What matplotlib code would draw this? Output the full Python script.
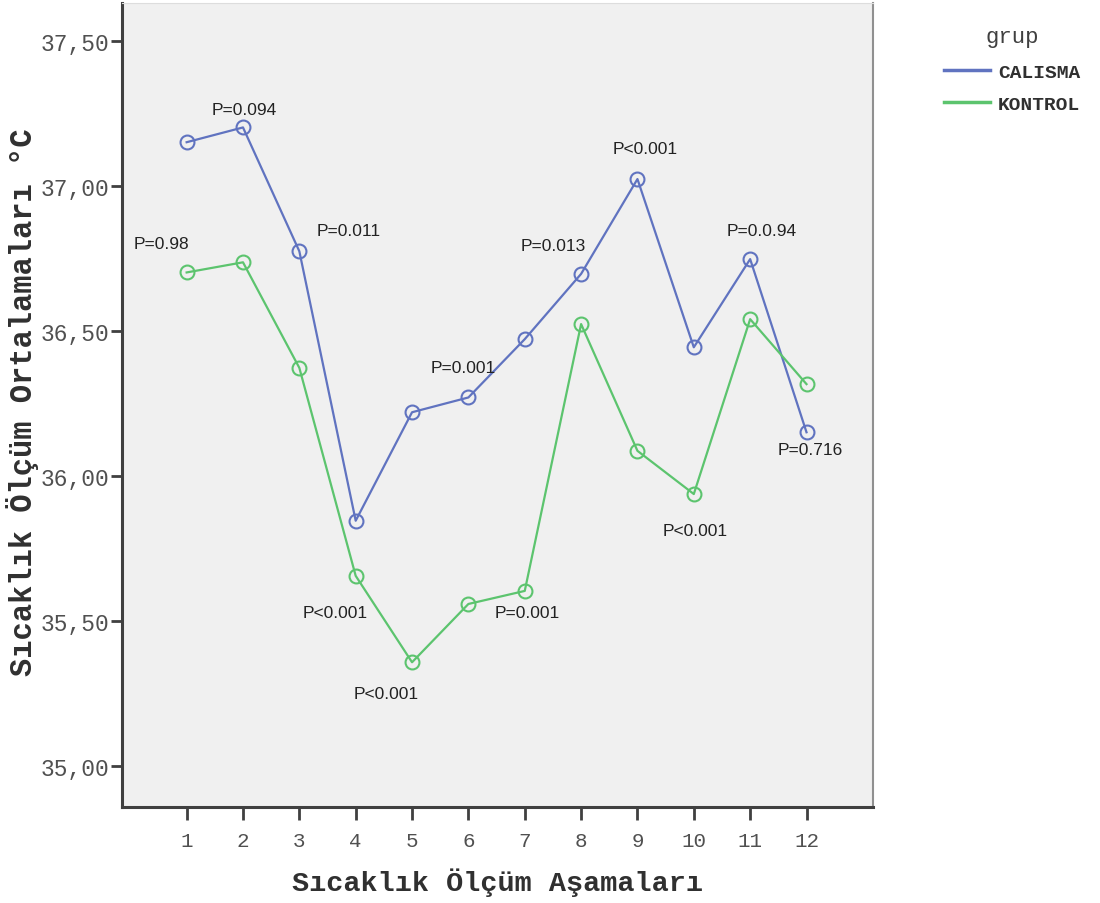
import matplotlib
matplotlib.use('Agg')
import matplotlib.pyplot as plt
from matplotlib.lines import Line2D

# measurement stages and group means (deg C)
stages = list(range(1, 13))
calisma = [37.150, 37.201, 36.774, 35.845, 36.219, 36.270,
           36.471, 36.696, 37.023, 36.443, 36.747, 36.150]
kontrol = [36.701, 36.736, 36.372, 35.655, 35.357, 35.558,
           35.603, 36.523, 36.086, 35.937, 36.540, 36.316]

yticks = [35.0, 35.5, 36.0, 36.5, 37.0, 37.5]
ytick_labels = ['35,00', '35,50', '36,00', '36,50', '37,00', '37,50']

# p-value notes and where they sit
p_labels = ['P=0.98', 'P=0.094', 'P=0.011', 'P<0.001', 'P<0.001', 'P=0.001',
            'P=0.001', 'P=0.013', 'P<0.001', 'P<0.001', 'P=0.0.94', 'P=0.716']
p_x = [0.545, 2.02, 3.88, 3.63, 4.54, 5.90, 7.05, 7.50, 9.13, 10.03, 11.2, 12.07]
p_y = [36.80, 37.264, 36.845, 35.53, 35.25, 36.374, 35.53, 36.793, 37.127, 35.81, 36.845, 36.092]

mono = 'Liberation Mono'
blue = '#6073c0'
green = '#5cc46e'

fig = plt.figure(figsize=(11, 9.04), dpi=100)
ax = fig.add_axes([122/1100, 96/904, 751/1100, 804/904])
ax.set_facecolor('#f0f0f0')

ax.plot(stages, calisma, color=blue, lw=1.6, marker='o', ms=10, mfc='none',
        mec=blue, mew=1.5)
ax.plot(stages, kontrol, color=green, lw=1.6, marker='o', ms=10, mfc='none',
        mec=green, mew=1.5)

for lab, x, y in zip(p_labels, p_x, p_y):
    ax.text(x, y, lab, ha='center', va='center', fontsize=12.5,
            family='Liberation Sans', color='#222222')

ax.set_xlim(-0.147, 13.18)
ax.set_ylim(34.858, 37.630)
ax.set_xticks(stages)
ax.set_xticklabels([str(s) for s in stages], family=mono, fontsize=15, color='#505050')
ax.set_yticks(yticks)
ax.set_yticklabels(ytick_labels, family=mono, fontsize=16.5, color='#505050')

ax.tick_params(axis='y', length=8, width=2, color='#404040', pad=1)
ax.tick_params(axis='x', length=9, width=2, color='#404040', pad=8)

for side in ['left', 'bottom']:
    ax.spines[side].set_color('#404040')
    ax.spines[side].set_linewidth(2.2)
ax.spines['right'].set_color('#909090')
ax.spines['right'].set_linewidth(1.5)
ax.spines['top'].set_color('#dddddd')
ax.spines['top'].set_linewidth(0.8)

ax.set_xlabel('Sıcaklık Ölçüm Aşamaları', family=mono, fontsize=20.5,
              fontweight='bold', color='#303030', va='center')
ax.xaxis.set_label_coords(0.5, -0.093)
ax.set_ylabel('Sıcaklık Ölçüm Ortalamaları °C', family=mono, fontsize=22,
              fontweight='bold', color='#303030', va='center')
ax.yaxis.set_label_coords(-0.133, 0.505)

handles = [Line2D([], [], color=blue, lw=2.5), Line2D([], [], color=green, lw=2.5)]
leg = fig.legend(handles, ['CALISMA', 'KONTROL'], loc='upper left',
                 bbox_to_anchor=(0.842, 0.990), frameon=False,
                 title='grup', prop={'family': mono, 'size': 14, 'weight': 'bold'},
                 handlelength=2.4, handletextpad=0.4, labelspacing=0.75)
leg.get_title().set_family(mono)
leg.get_title().set_fontsize(16)
leg.get_title().set_color('#404040')
leg._legend_box.sep = 12
for t in leg.get_texts():
    t.set_color('#303030')

fig.savefig('out.png', dpi=100)
